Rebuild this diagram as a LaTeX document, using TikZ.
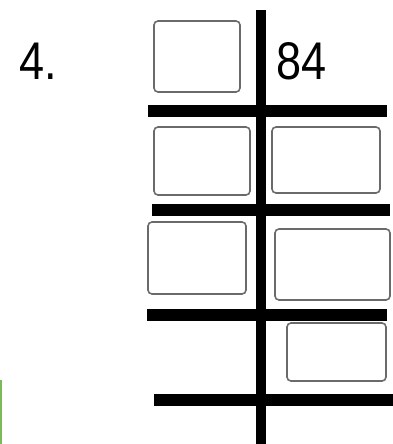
\documentclass[tikz,border=0pt]{standalone}
\usepackage{fontspec}
\setmainfont{Liberation Sans}
\definecolor{boxgray}{HTML}{6A6A6A}
\definecolor{edgegreen}{HTML}{7DB85A}
\begin{document}
\begin{tikzpicture}[x=1pt,y=-1pt,
  answerbox/.style={draw=boxgray,line width=1.6pt,rounded corners=4pt,fill=white},
  barline/.style={line width=12pt,black},
  stemline/.style={line width=10pt,black},
  numtext/.style={font=\fontsize{53}{53}\selectfont,xscale=0.85,inner sep=0pt,anchor=south west}]
\useasboundingbox (0,0) rectangle (393,444);
% vertical stem
\draw[stemline] (261,10) -- (261,444);
% horizontal bars
\draw[barline] (148,111) -- (387,111);
\draw[barline] (152,210) -- (390,210);
\draw[barline] (147,315) -- (387,315);
\draw[barline] (154,400) -- (393,400);
% boxes
\draw[answerbox] (154,21) rectangle (240,92);
\draw[answerbox] (154,127) rectangle (250,195);
\draw[answerbox] (272,127) rectangle (380,193);
\draw[answerbox] (148,222) rectangle (246,294);
\draw[answerbox] (275,229) rectangle (390,300);
\draw[answerbox] (287,323) rectangle (386,381);
% texts
\node[numtext] (n4) at (19,80) {4.};
\node[numtext] (n84) at (276,80) {84};
% edge artifact
\draw[edgegreen,line width=2pt] (1,380) -- (1,444);
\end{tikzpicture}
\end{document}
